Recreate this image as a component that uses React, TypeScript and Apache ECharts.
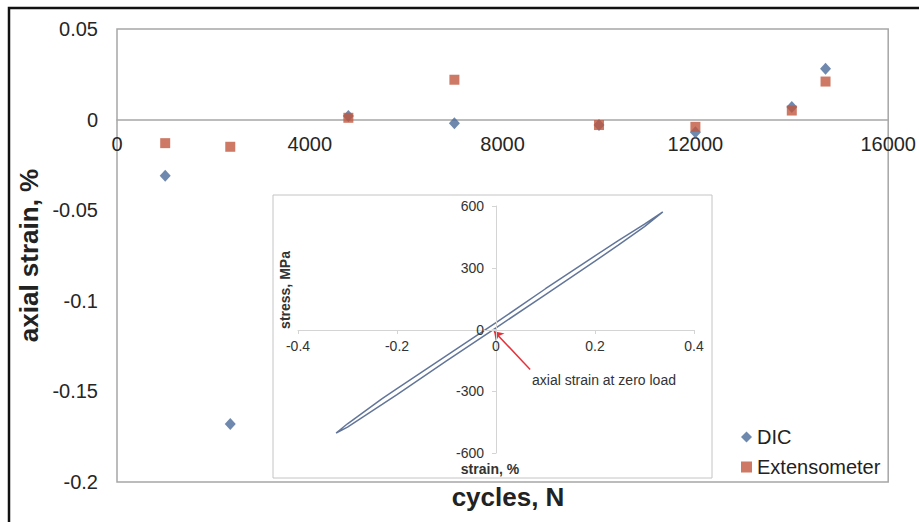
import React, { useEffect, useRef } from "react";
import * as echarts from "echarts";

// Main chart data
const cycles = [1000, 2350, 4800, 7000, 10000, 12000, 14000, 14700];
const dicStrain = [-0.031, -0.168, 0.002, -0.002, -0.003, -0.007, 0.007, 0.028];
const extStrain = [-0.013, -0.015, 0.001, 0.022, -0.003, -0.004, 0.005, 0.021];

// Inset hysteresis loop (strain %, stress MPa)
const loopStrain = [
  0.337, 0.3, 0.247, 0.2, 0.1, 0, -0.1, -0.2, -0.23, -0.3, -0.323,
  -0.3, -0.23, -0.2, -0.1, 0, 0.1, 0.2, 0.247, 0.3, 0.337,
];
const loopStress = [
  571, 512, 432, 358, 198, 33, -127, -287, -336, -458, -503,
  -474, -364, -316, -153, 8, 170, 332, 410, 500, 571,
];

// Annotation arrow (tail -> head), in inset data coordinates
const arrowTail = [0.069, -194];
const arrowHead = [-0.004, -8];

const FONT = "'Liberation Sans', Arial, Helvetica, sans-serif";
const DIC_COLOR = "#4a6a9a";
const EXT_COLOR = "#c0583f";

export default function App() {
  const ref = useRef<HTMLDivElement>(null);

  useEffect(() => {
    if (!ref.current) return;
    const chart = echarts.init(ref.current, null, { renderer: "svg" });

    const loopData = loopStrain.map((s, i) => [s, loopStress[i]]);

    chart.setOption({
      animation: false,
      backgroundColor: "#ffffff",
      textStyle: { fontFamily: FONT },
      legend: {
        orient: "vertical",
        left: 736,
        top: 422,
        itemWidth: 11,
        itemHeight: 11,
        itemGap: 10,
        textStyle: { fontSize: 20, color: "#222", lineHeight: 20, fontFamily: FONT },
        data: ["DIC", "Extensometer"],
      },
      grid: [
        {
          left: 117,
          top: 29,
          width: 772,
          height: 453,
          show: true,
          borderColor: "#a6a6a6",
          borderWidth: 1.5,
          backgroundColor: "transparent",
        },
        { left: 298, top: 206, width: 396, height: 247, show: false },
      ],
      xAxis: [
        {
          type: "value",
          gridIndex: 0,
          min: 0,
          max: 16000,
          interval: 4000,
          position: "bottom",
          offset: -362,
          axisLine: { onZero: false, lineStyle: { color: "#a6a6a6", width: 1.5 } },
          axisTick: { show: false },
          splitLine: { show: false },
          axisLabel: {
            fontSize: 20,
            color: "#262626",
            margin: 14,
            fontFamily: FONT,
            formatter: (v: number) => String(v),
          },
        },
        {
          type: "value",
          gridIndex: 1,
          min: -0.4,
          max: 0.4,
          interval: 0.2,
          z: 5,
          position: "bottom",
          offset: -123,
          axisLine: { onZero: false, lineStyle: { color: "#d4d4d4", width: 1 } },
          axisTick: { show: true, length: 4, lineStyle: { color: "#d4d4d4" } },
          splitLine: { show: false },
          axisLabel: { fontSize: 14, color: "#333", margin: 9, fontFamily: FONT },
        },
      ],
      yAxis: [
        {
          type: "value",
          gridIndex: 0,
          min: -0.2,
          max: 0.05,
          interval: 0.05,
          axisLine: { show: false },
          axisTick: { show: false },
          splitLine: { show: false },
          axisLabel: { fontSize: 20, color: "#262626", margin: 19, fontFamily: FONT },
          name: "axial strain, %",
          nameLocation: "middle",
          nameRotate: 90,
          nameGap: 66,
          nameTextStyle: { fontSize: 26, fontWeight: "bold", color: "#222", fontFamily: FONT },
        },
        {
          type: "value",
          gridIndex: 1,
          min: -600,
          max: 600,
          interval: 300,
          z: 5,
          position: "left",
          offset: -198,
          axisLine: { show: true, onZero: false, lineStyle: { color: "#d4d4d4", width: 1 } },
          axisTick: { show: true, length: 4, lineStyle: { color: "#d4d4d4" } },
          splitLine: { show: false },
          axisLabel: { fontSize: 14, color: "#333", margin: 12, fontFamily: FONT },
        },
      ],
      graphic: [
        {
          type: "polyline",
          z: 10,
          shape: { points: [[9, 522], [9, 8], [919, 8]] },
          style: { stroke: "#111", lineWidth: 2.5, fill: null },
        },
        {
          type: "rect",
          z: 1,
          shape: { x: 273, y: 195, width: 439, height: 283 },
          style: { fill: "#ffffff", stroke: "#c4c4c4", lineWidth: 1 },
        },
        {
          type: "text",
          z: 10,
          x: 508,
          y: 497,
          style: {
            text: "cycles, N",
            fontSize: 26,
            fontWeight: "bold",
            fontFamily: FONT,
            fill: "#222",
            align: "center",
            verticalAlign: "middle",
          },
        },
        {
          type: "text",
          z: 10,
          x: 285,
          y: 290,
          rotation: Math.PI / 2,
          style: {
            text: "stress, MPa",
            fontSize: 14,
            fontWeight: "bold",
            fontFamily: FONT,
            fill: "#333",
            align: "center",
            verticalAlign: "middle",
          },
        },
        {
          type: "text",
          z: 10,
          x: 490,
          y: 469,
          style: {
            text: "strain, %",
            fontSize: 14,
            fontWeight: "bold",
            fontFamily: FONT,
            fill: "#333",
            align: "center",
            verticalAlign: "middle",
          },
        },
        {
          type: "text",
          z: 10,
          x: 532,
          y: 380,
          style: {
            text: "axial strain at zero load",
            fontSize: 14,
            fontFamily: FONT,
            fill: "#333",
            align: "left",
            verticalAlign: "middle",
          },
        },
      ],
      series: [
        {
          name: "DIC",
          type: "scatter",
          xAxisIndex: 0,
          yAxisIndex: 0,
          symbol: "diamond",
          symbolSize: [11, 12],
          itemStyle: { color: DIC_COLOR },
          data: cycles.map((c, i) => [c, dicStrain[i]]),
        },
        {
          name: "Extensometer",
          type: "scatter",
          xAxisIndex: 0,
          yAxisIndex: 0,
          symbol: "rect",
          symbolSize: 10,
          itemStyle: { color: EXT_COLOR },
          data: cycles.map((c, i) => [c, extStrain[i]]),
        },
        {
          name: "loop",
          type: "line",
          xAxisIndex: 1,
          yAxisIndex: 1,
          showSymbol: false,
          symbol: "none",
          z: 4,
          lineStyle: { color: "#63769a", width: 1.5 },
          data: loopData,
          markLine: {
            silent: true,
            symbol: ["none", "arrow"],
            symbolSize: 9,
            lineStyle: { color: "#e5323a", width: 1.5, type: "solid" },
            label: { show: false },
            data: [[{ coord: arrowTail }, { coord: arrowHead }]],
          },
        },
      ],
    });

    return () => chart.dispose();
  }, []);

  return (
    <div
      ref={ref}
      style={{ position: "fixed", left: 0, top: 0, width: 919, height: 522 }}
    />
  );
}
